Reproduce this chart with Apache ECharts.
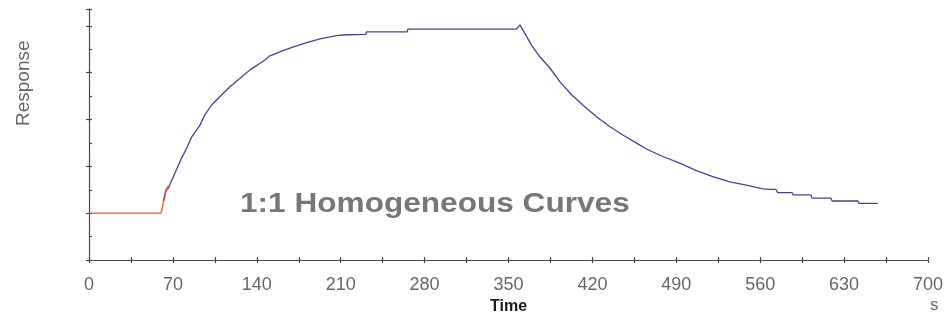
<!DOCTYPE html>
<html>
<head>
<meta charset="utf-8">
<script src="https://cdn.jsdelivr.net/npm/echarts@6/dist/echarts.min.js"></script>
<style>
  html, body { margin: 0; padding: 0; background: #ffffff; }
  #chart { width: 947px; height: 321px; }
</style>
</head>
<body>
<div id="chart"></div>
<script>
// Baseline and start of injection (seconds, response units)
const injectTime = [0, 60, 61, 62, 63, 64, 65, 66];
const injectResp = [10, 10, 11, 12.4, 13, 14.4, 15.4, 15.8];

// Association and dissociation curve
const curveTime = [
  62, 64.2, 66.1, 71.7, 77.3, 81.5, 85.7, 92.6, 96.7, 102.3, 109.3, 117.6, 126, 134.3,
  146.8, 151, 161.8, 171.8, 181.6, 192.7, 206.6, 214.8, 231, 231.6, 265.5, 266, 356.7,
  359.5, 363.6, 369.2, 376.1, 384.5, 392.8, 402.6, 412, 423.4, 434.5, 445.4, 457.9,
  465.1, 478.7, 492.9, 506.8, 520.4, 534.6, 548.5, 562.1, 568, 573, 574.6, 586.5,
  587.5, 602.3, 603.3, 619, 620, 641.5, 642.5, 658
];
const curveResp = [
  12.6, 15.0, 15.3, 18.6, 21.8, 23.9, 26.3, 28.8, 31.0, 33.1, 34.9, 37.0, 38.8, 40.6,
  42.7, 43.6, 44.7, 45.6, 46.4, 47.2, 47.9, 48.1, 48.2, 48.7, 48.7, 49.3, 49.3,
  50.2, 48.4, 45.9, 43.4, 41.0, 38.1, 35.3, 33.1, 30.6, 28.5, 26.7, 24.8,
  23.7, 22.1, 20.7, 19.1, 17.8, 16.7, 16.0, 15.2, 15.1, 15.1, 14.4, 14.4,
  13.9, 13.9, 13.2, 13.2, 12.6, 12.6, 12.1, 12.1
];

const chartTitle = '1:1 Homogeneous Curves';
const xName = 'Time';
const xUnit = 's';
const yName = 'Response';

const axisColor = '#4a4a4a';
const zip = (xs, ys) => xs.map((x, i) => [x, ys[i]]);

const chart = echarts.init(document.getElementById('chart'), null, { renderer: 'canvas' });

const xBase = {
  type: 'value', min: 0, max: 700, interval: 70, position: 'bottom',
  splitLine: { show: false }
};
const yBase = {
  type: 'value', min: 0, max: 53.6, interval: 10, position: 'left',
  splitLine: { show: false }, axisLabel: { show: false }
};

chart.setOption({
  animation: false,
  backgroundColor: '#ffffff',
  grid: { left: 89, right: 19, top: 9, bottom: 61, containLabel: false },
  xAxis: [
    Object.assign({}, xBase, {
      axisLine: { show: true, lineStyle: { color: axisColor, width: 1.2 } },
      axisTick: { show: true, length: 3, lineStyle: { color: axisColor, width: 1.2 } },
      minorTick: { show: true, splitNumber: 2, length: 3, lineStyle: { color: axisColor, width: 1.2 } },
      axisLabel: {
        show: true, margin: 16, color: '#666666',
        fontFamily: 'Liberation Sans, Arial, sans-serif', fontSize: 18
      },
      name: xName, nameLocation: 'middle', nameGap: 37,
      nameTextStyle: {
        color: '#1a1a1a', fontWeight: 'bold', fontSize: 16,
        fontFamily: 'Liberation Sans, Arial, sans-serif'
      }
    }),
    Object.assign({}, xBase, {
      axisLine: { show: false },
      axisTick: { show: true, inside: true, length: 3, lineStyle: { color: axisColor, width: 1.2 } },
      minorTick: { show: true, splitNumber: 2, length: 3, lineStyle: { color: axisColor, width: 1.2 } },
      axisLabel: { show: false }
    })
  ],
  yAxis: [
    Object.assign({}, yBase, {
      axisLine: { show: true, lineStyle: { color: axisColor, width: 1.2 } },
      axisTick: { show: true, length: 3, lineStyle: { color: axisColor, width: 1.2 } },
      minorTick: { show: false }
    }),
    Object.assign({}, yBase, {
      axisLine: { show: false },
      axisTick: { show: true, inside: true, length: 3, lineStyle: { color: axisColor, width: 1.2 } },
      minorTick: { show: true, splitNumber: 2, length: 3, lineStyle: { color: axisColor, width: 1.2 } }
    })
  ],
  graphic: [
    {
      // title text, widened to the span it covers in the plot
      type: 'text', x: 240, y: 191, scaleX: 1.17, scaleY: 1,
      style: {
        text: chartTitle, fill: '#777777',
        font: 'bold 27px "Liberation Sans", Arial, sans-serif'
      },
      z: 10
    },
    {
      type: 'text', x: 14, y: 126, rotation: Math.PI / 2,
      style: {
        text: yName, fill: '#666666',
        font: '19px "Liberation Sans", Arial, sans-serif',
        verticalAlign: 'top'
      }
    },
    {
      type: 'text', x: 930, y: 297,
      style: {
        text: xUnit, fill: '#666666',
        font: '17px "Liberation Sans", Arial, sans-serif'
      }
    }
  ],
  series: [
    {
      type: 'line', xAxisIndex: 0, yAxisIndex: 0,
      data: zip(curveTime, curveResp),
      showSymbol: false, symbol: 'none',
      lineStyle: { color: '#4b3f9c', width: 1.3 },
      z: 3
    },
    {
      type: 'line', xAxisIndex: 0, yAxisIndex: 0,
      data: zip(injectTime, injectResp),
      showSymbol: false, symbol: 'none',
      lineStyle: { color: '#e8582c', width: 1.3 },
      z: 4
    }
  ]
});
</script>
</body>
</html>
